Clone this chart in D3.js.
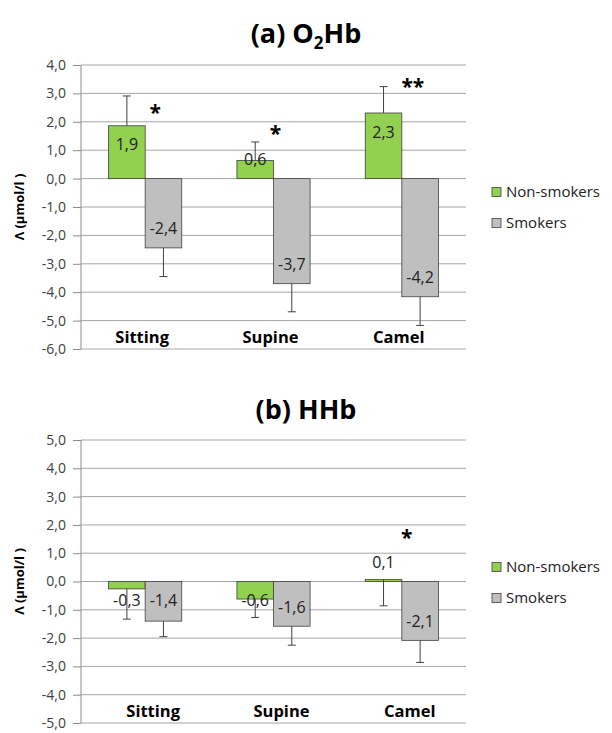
<!DOCTYPE html>
<html>
<head>
<meta charset="utf-8">
<script src="https://cdn.jsdelivr.net/npm/d3@7"></script>
<style>
  body { margin: 0; background: #fff; }
  svg { display: block; font-family: "Open Sans", sans-serif; }
</style>
</head>
<body>
<div id="chart"></div>
<script>
// categories and series
const categories = ["Sitting", "Supine", "Camel"];
const series = ["Non-smokers", "Smokers"];

// (a) O2Hb values, whisker ends and significance marks
const o2hbNonSmokers = [1.86, 0.64, 2.31];
const o2hbSmokers = [-2.44, -3.70, -4.16];
const o2hbNonSmokersErr = [2.91, 1.29, 3.24];
const o2hbSmokersErr = [-3.45, -4.69, -5.17];
const o2hbStars = ["*", "*", "**"];
const o2hbStarLevel = [2.45, 1.7, 3.35];
const o2hbTicks = [4, 3, 2, 1, 0, -1, -2, -3, -4, -5, -6];

// (b) HHb values, whisker ends and significance marks
const hhbNonSmokers = [-0.26, -0.62, 0.07];
const hhbSmokers = [-1.40, -1.58, -2.08];
const hhbNonSmokersErr = [-1.33, -1.27, -0.86];
const hhbSmokersErr = [-1.95, -2.25, -2.86];
const hhbStars = ["", "", "*"];
const hhbStarLevel = [0, 0, 1.65];
const hhbTicks = [5, 4, 3, 2, 1, 0, -1, -2, -3, -4, -5];

const colors = { "Non-smokers": "#92d050", "Smokers": "#bfbfbf" };

const width = 612;
const height = 733;
const plotLeft = 81;
const plotRight = 466;

const svg = d3.select("#chart").append("svg")
    .attr("width", width)
    .attr("height", height);

const fmt = v => d3.format(".1f")(v).replace(".", ",").replace("−", "-");

drawPanel({
    title: ["(a) O", "2", "Hb"],
    titleY: 43,
    top: 65, bottom: 349,
    ticks: o2hbTicks,
    ns: o2hbNonSmokers, sm: o2hbSmokers,
    nsErr: o2hbNonSmokersErr, smErr: o2hbSmokersErr,
    stars: o2hbStars, starLevel: o2hbStarLevel,
    starDx: [10, 2, 11],
    catDx: -3,
    legendY: 192
});

drawPanel({
    title: ["(b) HHb"],
    titleY: 419,
    top: 440, bottom: 723,
    ticks: hhbTicks,
    ns: hhbNonSmokers, sm: hhbSmokers,
    nsErr: hhbNonSmokersErr, smErr: hhbSmokersErr,
    stars: hhbStars, starLevel: hhbStarLevel,
    starDx: [0, 0, 5],
    catDx: 8,
    legendY: 567
});

function drawPanel(p) {
    const y = d3.scaleLinear()
        .domain([d3.min(p.ticks), d3.max(p.ticks)])
        .range([p.bottom, p.top]);

    const x0 = d3.scaleBand().domain(categories)
        .range([plotLeft, plotRight])
        .paddingInner(0.43).paddingOuter(0.215);
    const x1 = d3.scaleBand().domain(series).range([0, x0.bandwidth()]);

    // title
    const t = svg.append("text")
        .attr("x", width / 2).attr("y", p.titleY)
        .attr("text-anchor", "middle")
        .attr("font-size", "27px").attr("font-weight", "bold")
        .attr("fill", "#000");
    t.append("tspan").text(p.title[0]);
    if (p.title.length > 1) {
        t.append("tspan").attr("font-size", "17px").attr("dy", 6).text(p.title[1]);
        t.append("tspan").attr("dy", -6).text(p.title[2]);
    }

    // gridlines + y axis
    const g = svg.append("g");
    g.append("g")
        .attr("transform", `translate(${plotLeft},0)`)
        .call(d3.axisLeft(y).tickValues(p.ticks).tickSize(8).tickFormat(fmt))
        .call(a => a.select(".domain").attr("stroke", "#8c8c8c").attr("d", `M0,${p.top}V${p.bottom}`))
        .call(a => a.selectAll(".tick line").attr("stroke", "#8c8c8c"))
        .call(a => a.selectAll(".tick text")
            .attr("x", -15)
            .attr("font-size", "14px")
            .attr("font-family", "Open Sans")
            .attr("fill", "#404040"));

    g.selectAll(".grid")
        .data(p.ticks)
        .enter().append("line")
        .attr("x1", plotLeft).attr("x2", plotRight)
        .attr("y1", d => y(d)).attr("y2", d => y(d))
        .attr("stroke", "#a6a6a6").attr("stroke-width", 1);

    // y axis title
    svg.append("text")
        .attr("transform", `translate(24,${(p.top + p.bottom) / 2}) rotate(-90)`)
        .attr("text-anchor", "middle")
        .attr("font-size", "13px").attr("font-weight", "bold")
        .text("Λ (µmol/l )");

    // bars
    const rows = [];
    categories.forEach((c, i) => {
        rows.push({ cat: c, s: "Non-smokers", v: p.ns[i], err: p.nsErr[i] });
        rows.push({ cat: c, s: "Smokers", v: p.sm[i], err: p.smErr[i] });
    });
    const bx = d => x0(d.cat) + x1(d.s);

    g.selectAll(".bar")
        .data(rows)
        .enter().append("rect")
        .attr("class", "bar")
        .attr("x", bx)
        .attr("y", d => y(Math.max(0, d.v)))
        .attr("width", x1.bandwidth())
        .attr("height", d => Math.abs(y(d.v) - y(0)))
        .attr("fill", d => colors[d.s])
        .attr("stroke", "#404040")
        .attr("stroke-width", 0.8);

    // error bars
    const eb = g.selectAll(".err").data(rows).enter().append("g").attr("stroke", "#404040");
    eb.append("line")
        .attr("x1", d => bx(d) + x1.bandwidth() / 2).attr("x2", d => bx(d) + x1.bandwidth() / 2)
        .attr("y1", d => y(d.v)).attr("y2", d => y(d.err));
    eb.append("line")
        .attr("x1", d => bx(d) + x1.bandwidth() / 2 - 4).attr("x2", d => bx(d) + x1.bandwidth() / 2 + 4)
        .attr("y1", d => y(d.err)).attr("y2", d => y(d.err));

    // value labels
    g.selectAll(".val")
        .data(rows)
        .enter().append("text")
        .attr("x", d => bx(d) + x1.bandwidth() / 2)
        .attr("y", d => {
            const dir = d.v >= 0 ? -1 : 1;
            const h = Math.abs(y(d.v) - y(0));
            return h >= 40 ? y(d.v) - dir * 19 : y(0) + dir * 19;
        })
        .attr("dy", "0.35em")
        .attr("text-anchor", "middle")
        .attr("font-size", "16px")
        .attr("fill", "#222")
        .text(d => fmt(d.v));

    // significance stars
    g.selectAll(".star")
        .data(categories)
        .enter().append("text")
        .attr("x", (c, i) => x0(c) + x0.bandwidth() / 2 + p.starDx[i])
        .attr("y", (c, i) => y(p.starLevel[i]))
        .attr("dy", "0.5em")
        .attr("text-anchor", "middle")
        .attr("font-size", "21px").attr("font-weight", "bold")
        .text((c, i) => p.stars[i]);

    // category labels
    g.selectAll(".cat")
        .data(categories)
        .enter().append("text")
        .attr("x", c => x0(c) + x0.bandwidth() / 2 + p.catDx)
        .attr("y", p.bottom - 6)
        .attr("text-anchor", "middle")
        .attr("font-size", "16.5px").attr("font-weight", "bold")
        .text(c => c);

    // legend
    const lg = svg.append("g");
    series.forEach((s, i) => {
        const ly = p.legendY + i * 31;
        lg.append("rect")
            .attr("x", 492).attr("y", ly - 4.5)
            .attr("width", 9).attr("height", 9)
            .attr("fill", colors[s]).attr("stroke", "#404040").attr("stroke-width", 0.8);
        lg.append("text")
            .attr("x", 506).attr("y", ly)
            .attr("dy", "0.35em")
            .attr("font-size", "15px")
            .attr("fill", "#222")
            .text(s);
    });
}
</script>
</body>
</html>
